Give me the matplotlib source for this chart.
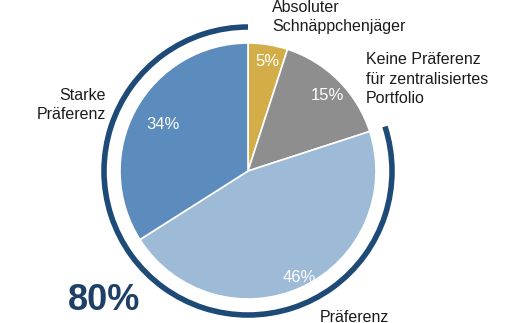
import numpy as np
import matplotlib.pyplot as plt
from matplotlib.patches import Arc

plt.rcParams['font.family'] = ['Liberation Sans', 'DejaVu Sans']

segments = ["Absoluter\nSchnäppchenjäger",
            "Keine Präferenz\nfür zentralisiertes\nPortfolio",
            "Präferenz",
            "Starke\nPräferenz"]
shares = [5, 15, 46, 34]
colors = ["#D3AE48", "#8E8E8E", "#9DBAD6", "#5C8BBD"]
total_pref = 80  # Präferenz + Starke Präferenz

fig = plt.figure(figsize=(5.16, 3.23), dpi=100)
ax = fig.add_axes([0, 0, 1, 1])

cx, cy, r = 248, 152, 128
wedges, _ = ax.pie(shares, colors=colors, startangle=90, counterclock=False,
                   center=(cx, cy), radius=r, frame=True,
                   wedgeprops=dict(edgecolor="white", linewidth=1.2))
ax.set_xlim(0, 516)
ax.set_ylim(0, 323)
ax.set_aspect("equal")
ax.axis("off")

# percentage labels inside the slices
dists = [0.88, 0.86, 0.90, 0.78]
for w, v, d in zip(wedges, shares, dists):
    a = np.deg2rad((w.theta1 + w.theta2) / 2)
    ax.text(cx + d * r * np.cos(a) + 2, cy + d * r * np.sin(a) - 2, f"{v}%",
            color="white", fontsize=12, ha="center", va="center")

# outer ring covering the share with preference
ax.add_patch(Arc((cx, cy), 2 * 144, 2 * 144, theta1=90,
                 theta2=90 + 360 * total_pref / 100,
                 color="#1E4A78", linewidth=4))

txt = dict(fontsize=11.5, linespacing=1.35, color="#1c1c1c", va="center")
ax.text(106, 218, segments[3], ha="right", **txt)
ax.text(272, 306, segments[0], ha="left", **txt)
ax.text(366, 244, segments[1], ha="left", **txt)
ax.text(320, 6, segments[2], ha="left", **txt)
ax.text(68, 23, f"{total_pref}%", fontsize=26, fontweight="bold",
        ha="left", va="center", color="#1E3F66")

fig.savefig("out.png", dpi=100)
